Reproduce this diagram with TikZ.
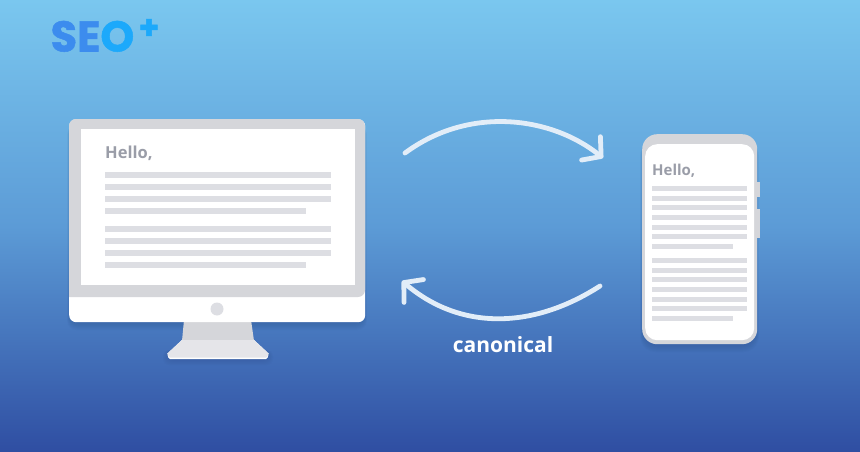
\documentclass[tikz,border=0pt]{standalone}
\usepackage{fontspec}
\setmainfont{Open Sans}
\newfontfamily\logofont[BoldFeatures={FakeBold=1.2}]{Poppins}
\usetikzlibrary{arrows.meta}
\definecolor{skyblue}{HTML}{7AC7EF}
\definecolor{midblue}{HTML}{5C9BD6}
\definecolor{deepblue}{HTML}{2F4EA2}
\definecolor{bezel}{HTML}{D5D6DA}
\definecolor{textbar}{HTML}{DDDEE3}
\definecolor{standbase}{HTML}{E5E5E9}
\definecolor{hellogrey}{HTML}{9A9DA8}
\definecolor{arrowwhite}{HTML}{E2EDF8}
\definecolor{logoblue}{HTML}{3C8CEE}
\definecolor{logocyan}{HTML}{1CA9FB}
\tikzset{
  softshadow/.style={fill=deepblue!70!black,fill opacity=.03},
  linkarrow/.style={draw=arrowwhite,line width=4.8pt,line cap=round,-{Straight Barb[length=13pt,width=30pt,line width=4.8pt,line cap=round,line join=round]}}
}
\begin{document}
\begin{tikzpicture}[x=1pt,y=-1pt]
  \shade[top color=skyblue,bottom color=deepblue,middle color=midblue,shading angle=0] (0,0) rectangle (860,452);
  \useasboundingbox (0,0) rectangle (860,452);

  % logo
  \node[anchor=base west,inner sep=0pt,text=logoblue] (seo) at (50.5,51.5) {\logofont\bfseries\fontsize{43}{43}\selectfont SE\textcolor{logocyan}{O}};
  \node[anchor=center,inner sep=0pt,text=logocyan] (plus) at (149,29) {\logofont\bfseries\fontsize{33}{33}\selectfont +};

  % shadows
  \foreach \g in {1,2,...,7} {
    \fill[softshadow,rounded corners=9pt] (70-.4*\g,125) rectangle (364+.4*\g,323+\g);
    \fill[softshadow,rounded corners=15pt] (643-.4*\g,140) rectangle (756+.4*\g,345+\g);
    \fill[softshadow,rounded corners=6pt] (170-\g,350) rectangle (266+\g,358+\g);
  }

  % desktop stand
  \fill[bezel] (184,320) -- (251,320) -- (254,341) -- (182,341) -- cycle;
  \fill[white] (182,340) -- (254,340) -- (268,353) to[out=60,in=0] (266,359) -- (170,359) to[out=180,in=120] (168,353) -- cycle;
  \fill[standbase] (182,340) -- (254,340) -- (268,353) to[out=60,in=0] (266,357.5) -- (170,357.5) to[out=180,in=120] (168,353) -- cycle;

  % desktop
  \node[anchor=north west,fill=white,rounded corners=7pt,minimum width=296pt,minimum height=203pt,inner sep=0pt] (desktop) at (69,119) {};
  \fill[bezel,rounded corners=7pt] (69,297) -- (69,119) -- (365,119) -- (365,297) [sharp corners] -- cycle;
  \node[anchor=north west,fill=white,minimum width=274pt,minimum height=156pt,inner sep=0pt] (screen) at (81,129) {};
  \node[circle,fill=textbar,minimum size=13pt,inner sep=0pt] (button) at (217,309) {};
  \node[anchor=base west,inner sep=0pt,text=hellogrey] (hello1) at (105,158) {\fontsize{16.5}{16.5}\selectfont\bfseries Hello,};
  \foreach \y/\xend in {172/331,184/331,196/331,208/306,226/331,238/331,250/331,262/306}
    \fill[textbar] (105,\y) rectangle (\xend,\y+6);

  % phone
  \fill[bezel] (757,182) rectangle (759.5,197);
  \fill[bezel] (757,209) rectangle (759.5,238);
  \node[anchor=north west,fill=bezel,rounded corners=15pt,minimum width=115pt,minimum height=210pt,inner sep=0pt] (phone) at (642,134) {};
  \node[anchor=north west,fill=white,rounded corners=12pt,minimum width=109pt,minimum height=196pt,inner sep=0pt] (display) at (645,144) {};
  \node[anchor=base west,inner sep=0pt,text=hellogrey] (hello2) at (652,175.5) {\fontsize{15}{15}\selectfont\bfseries Hello,};
  \foreach \y/\xend in {186/747,195.7/747,205.3/747,215/747,224.5/747,234/747,244/733,258/747,267.7/747,277.3/747,287/747,296.5/747,306/747,316/733}
    \fill[textbar] (652,\y) rectangle (\xend,\y+5);

  % arrows
  \coordinate (topstart) at (405,153);
  \coordinate (topend) at (603,158);
  \coordinate (lowstart) at (600,286);
  \coordinate (lowend) at (402,281);
  \draw[linkarrow] (topstart) .. controls (470,105) and (552,117) .. (topend);
  \draw[linkarrow] (lowstart) .. controls (535,328) and (462,332) .. (lowend);

  \node[text=white,inner sep=0pt] (canonical) at (503,344.5) {\fontsize{21}{21}\selectfont\textbf{canonical}};
\end{tikzpicture}
\end{document}
